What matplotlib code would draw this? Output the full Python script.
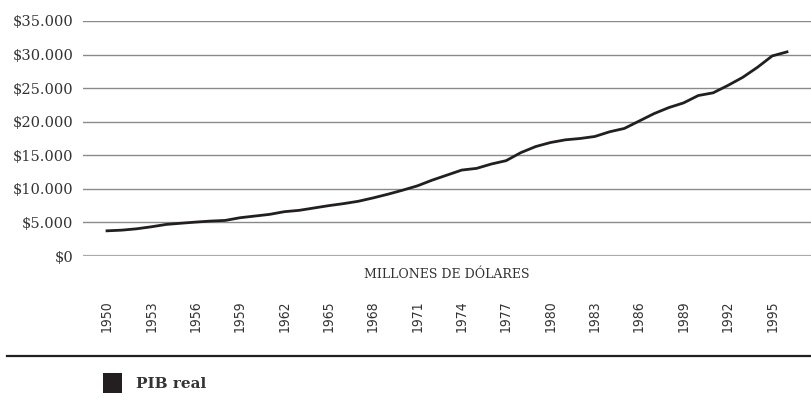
import matplotlib
matplotlib.use("Agg")
import matplotlib.pyplot as plt

years = list(range(1950, 1997))
pib_real = [3750, 3850, 4050, 4350, 4700, 4880, 5050, 5200, 5300, 5700,
            5950, 6200, 6600, 6800, 7150, 7500, 7800, 8150, 8650, 9200,
            9800, 10450, 11300, 12050, 12800, 13050, 13700, 14200, 15400, 16300,
            16900, 17300, 17500, 17800, 18500, 19000, 20100, 21200, 22100, 22800,
            23900, 24300, 25400, 26600, 28100, 29800, 30400]
y_ticks = [0, 5000, 10000, 15000, 20000, 25000, 30000, 35000]
y_tick_labels = ["$0", "$5.000", "$10.000", "$15.000", "$20.000",
                 "$25.000", "$30.000", "$35.000"]
x_tick_years = years[::3]
axis_title = "MILLONES DE DÓLARES"
series_name = "PIB real"

dark = "#231f20"

fig = plt.figure(figsize=(8.11, 4.05), dpi=100)
ax = fig.add_axes([83/811, 1-256/405, 1-83/811, (256-21)/405])

for yt in y_ticks:
    ax.axhline(yt, color="#8a8a8a" if yt else "#aaaaaa", lw=1.0 if yt else 1.6, zorder=1)

ax.plot(years, pib_real, color=dark, lw=2.0, zorder=3, solid_joinstyle="round")

ax.set_ylim(0, 35000)
ax.set_xlim(1950 - 24/14.78, 1996 + 24/14.78)
for s in ax.spines.values():
    s.set_visible(False)

ax.set_yticks(y_ticks)
ax.set_yticklabels(y_tick_labels, fontfamily="DejaVu Serif", fontsize=10.5, color="#333333")
ax.tick_params(axis="y", length=0, pad=7)

ax.set_xticks(x_tick_years)
ax.set_xticklabels([str(y) for y in x_tick_years], rotation=90,
                   fontfamily="DejaVu Sans", fontstretch="condensed",
                   fontsize=10, color="#333333")
ax.tick_params(axis="x", length=0, pad=32)

ax.text(0.5, -18/235, axis_title, transform=ax.transAxes, ha="center", va="center",
        fontfamily="DejaVu Serif", fontsize=9, color="#333333")

# separator line
fig.add_artist(plt.Line2D([7/811, 1.0], [1-355.5/405, 1-355.5/405], color=dark, lw=1.6))

# legend
fig.add_artist(plt.Rectangle((103/811, 1-393/405), 19/811, 20/405, color=dark, lw=0))
fig.text(136/811, 1-384/405, series_name, ha="left", va="center",
         fontfamily="DejaVu Serif", fontweight="bold", fontsize=11, color="#333333")

fig.savefig("out.png", dpi=100)
